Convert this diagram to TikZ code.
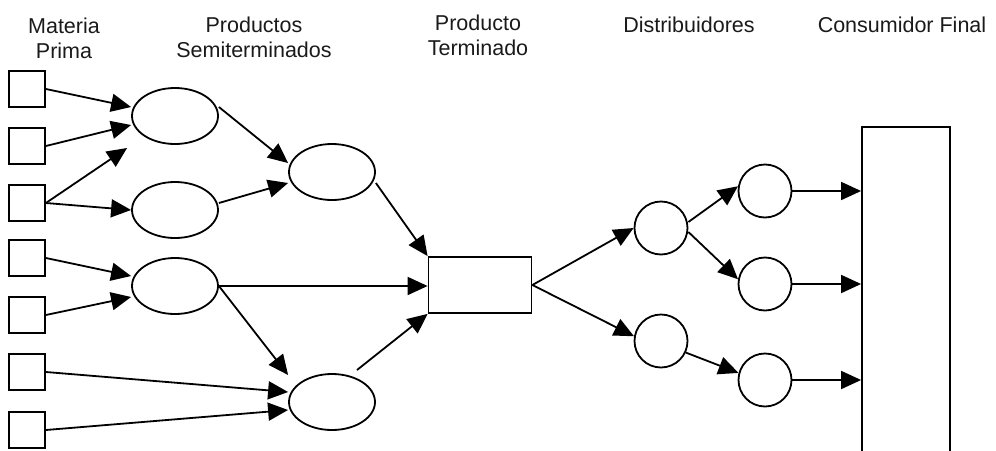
\documentclass[tikz,border=0pt]{standalone}
\usepackage{fontspec}
\setmainfont{Liberation Sans}
\usetikzlibrary{shapes.geometric,arrows.meta}
\definecolor{ink}{HTML}{1A1A1A}
\begin{document}
\begin{tikzpicture}[x=1pt,y=-1pt,
  every node/.style={line width=1.8pt,draw=black,inner sep=0pt},
  rawbox/.style={rectangle,minimum size=36pt},
  semi/.style={ellipse,minimum width=86pt,minimum height=56pt},
  dist/.style={circle,minimum size=53pt},
  flow/.style={line width=1.8pt,-{Triangle[length=20pt,width=18pt]}},
  title/.style={draw=none,text=ink,align=center,anchor=base,
    font=\fontsize{21.5}{24.5}\selectfont}]
\useasboundingbox (0,0) rectangle (996,450);

% column headings (base anchor sits on the last line)
\node[title] (tmp) at (64,58) {Materia\\Prima};
\node[title] (tps) at (254,57) {Productos\\Semiterminados};
\node[title] (tpt) at (478,55) {Producto\\Terminado};
\node[title] (tdi) at (689,32) {Distribuidores};
\node[title] (tcf) at (902,32) {Consumidor Final};

% raw materials
\node[rawbox] (s1) at (27,89) {};
\node[rawbox] (s2) at (27,146) {};
\node[rawbox] (s3) at (27,203) {};
\node[rawbox] (s4) at (27,258) {};
\node[rawbox] (s5) at (27,315) {};
\node[rawbox] (s6) at (27,372) {};
\node[rawbox] (s7) at (27,430) {};

% semi-finished products
\node[semi] (e1) at (175,116) {};
\node[semi] (e2) at (175,210) {};
\node[semi] (e3) at (175,286) {};
\node[semi] (e4) at (332,172) {};
\node[semi] (e5) at (332,402) {};

% finished product
\node[rectangle,minimum width=103pt,minimum height=56pt] (pt) at (480,285) {};

% distributors
\node[dist] (d1) at (661,228) {};
\node[dist] (d2) at (661,341) {};
\node[dist] (c1) at (765,191) {};
\node[dist] (c2) at (765,284) {};
\node[dist] (c3) at (765,380) {};

% final consumer (runs off the bottom edge)
\node[rectangle,minimum width=88pt,minimum height=345pt] (cf) at (906,299.5) {};

% raw materials -> semi-finished
\draw[flow] (s1.east) -- ([yshift=9pt]e1.west);
\draw[flow] (s2.east) -- ([yshift=-9pt]e1.west);
\draw[flow] (s3.east) -- ([xshift=-4pt,yshift=-32pt]e1.west);
\draw[flow] (s3.east) -- (e2.west);
\draw[flow] (s4.east) -- ([yshift=10pt]e3.west);
\draw[flow] (s5.east) -- ([yshift=-11pt]e3.west);
\draw[flow] (s6.east) -- ([yshift=10pt]e5.west);
\draw[flow] (s7.east) -- ([yshift=-8pt]e5.west);

% semi-finished -> semi-finished
\draw[flow] ([yshift=9pt]e1.east) -- ([yshift=9pt]e4.west);
\draw[flow] ([yshift=7pt]e2.east) -- ([yshift=-11pt]e4.west);
\draw[flow] (e3.east) -- ([yshift=27pt]e5.west);

% semi-finished -> finished product
\draw[flow] ([yshift=-11pt]e4.east) -- (pt.north west);
\draw[flow] (e3.east) -- (e3.east -| pt.west);
\draw[flow] ([xshift=25pt,yshift=32pt]e5.center) -- (pt.south west);

% finished product -> distributors
\draw[flow] (pt.east) -- (d1.west);
\draw[flow] (pt.east) -- (d2.170);
\draw[flow] ([yshift=6pt]d1.east) -- (c1.170);
\draw[flow] ([yshift=-4pt]d1.east) -- (c2.170);
\draw[flow] (d2.-25) -- (c3.165);

% distributors -> final consumer
\draw[flow] (c1.east) -- (c1.east -| cf.west);
\draw[flow] (c2.east) -- (c2.east -| cf.west);
\draw[flow] (c3.east) -- (c3.east -| cf.west);
\end{tikzpicture}
\end{document}
